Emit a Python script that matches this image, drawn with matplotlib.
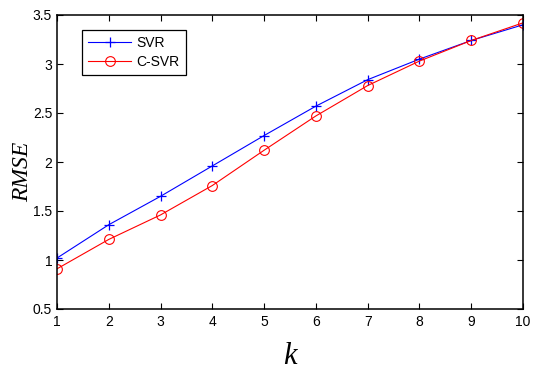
import matplotlib
matplotlib.use("Agg")
import matplotlib.pyplot as plt

k = [1, 2, 3, 4, 5, 6, 7, 8, 9, 10]
svr = [1.02, 1.36, 1.65, 1.96, 2.27, 2.57, 2.84, 3.05, 3.24, 3.40]
csvr = [0.91, 1.21, 1.46, 1.76, 2.12, 2.47, 2.78, 3.03, 3.24, 3.42]
yticks = [0.5, 1, 1.5, 2, 2.5, 3, 3.5]
yticklabels = ["0.5", "1", "1.5", "2", "2.5", "3", "3.5"]

plt.rcParams['font.family'] = ['Liberation Sans', 'DejaVu Sans']

fig = plt.figure(figsize=(5.33, 3.70), dpi=100)
ax = fig.add_axes([57/533, 1 - 309/370, (523-57)/533, (309-15)/370])

ax.plot(k, svr, color=(0, 0, 1), marker='+', markersize=7.5, markeredgewidth=0.9,
        linewidth=0.8, label='SVR')
ax.plot(k, csvr, color=(1, 0, 0), marker='o', markersize=7, markerfacecolor='none',
        markeredgewidth=0.8, linewidth=0.8, label='C-SVR')

ax.set_xlim(1, 10)
ax.set_ylim(0.5, 3.5)
ax.set_xticks(k)
ax.set_xticklabels([str(v) for v in k])
ax.set_yticks(yticks)
ax.set_yticklabels(yticklabels)
ax.tick_params(direction='in', top=True, right=True, length=4, width=0.8,
               labelsize=10)
ax.tick_params(axis='x', pad=4.5)
ax.tick_params(axis='y', pad=3.5)
for s in ax.spines.values():
    s.set_linewidth(1.1)

ax.set_xlabel('k', fontsize=22, fontstyle='italic', family='Liberation Serif')
ax.xaxis.label.set_va('baseline')
ax.xaxis.set_label_coords((290-57)/466, (309-364)/294)

ax.set_ylabel('RMSE', fontsize=17, fontstyle='italic', family='Liberation Serif')
ax.yaxis.label.set_va('center')
ax.yaxis.set_label_coords((23-57)/466, (309-172)/294)

leg = ax.legend(loc='upper left', bbox_to_anchor=((82-57)/466, (309-30)/294),
                borderaxespad=0, fontsize=10,
                fancybox=False, edgecolor='black', framealpha=1,
                handlelength=3.1, handletextpad=0.35, borderpad=0.45,
                labelspacing=0.35)
leg.get_frame().set_linewidth(0.9)

fig.savefig('out.png', dpi=100)
